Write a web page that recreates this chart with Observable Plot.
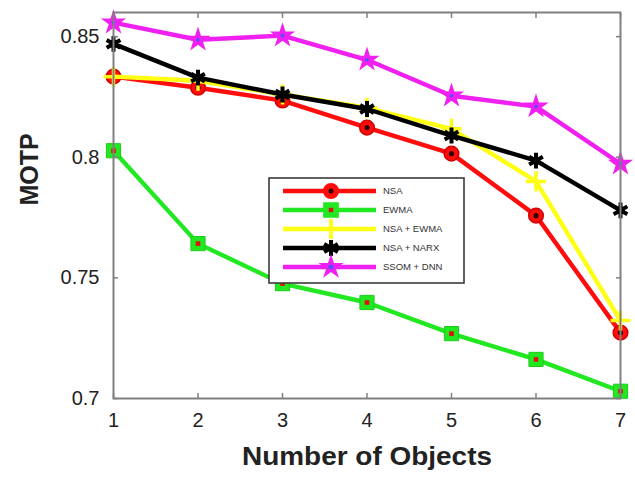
<!DOCTYPE html>
<html>
<head>
<meta charset="utf-8">
<script src="https://cdn.jsdelivr.net/npm/d3@7"></script>
<script src="https://cdn.jsdelivr.net/npm/@observablehq/plot@0.6"></script>
<style>
  html, body { margin: 0; padding: 0; background: #fff; }
  #chart { position: relative; width: 635px; height: 489px; font-family: "Liberation Sans", Arial, sans-serif; }
  #legend { position: absolute; left: 0; top: 0; }
</style>
</head>
<body>
<div id="chart"></div>
<script>
// ---- data ----
const objects = [1, 2, 3, 4, 5, 6, 7];
const seriesNames = ["EWMA", "NSA", "NSA + EWMA", "NSA + NARX", "SSOM + DNN"];
const legendOrder = ["NSA", "EWMA", "NSA + EWMA", "NSA + NARX", "SSOM + DNN"];
const nsa      = [0.8334, 0.8288, 0.8235, 0.8123, 0.8015, 0.7758, 0.7273];
const ewma     = [0.8027, 0.7642, 0.7476, 0.7398, 0.7269, 0.7162, 0.7030];
const nsaEwma  = [0.8334, 0.8317, 0.8260, 0.8205, 0.8118, 0.7900, 0.7323];
const nsaNarx  = [0.8470, 0.8330, 0.8260, 0.8200, 0.8090, 0.7986, 0.7780];
const ssomDnn  = [0.8558, 0.8487, 0.8504, 0.8404, 0.8255, 0.8210, 0.7973];
const yTicks = [0.7, 0.75, 0.8, 0.85];
const yTickLabels = ["0.7", "0.75", "0.8", "0.85"];
const xTicks = objects;
const xTitle = "Number of Objects";
const yTitle = "MOTP";

const valuesBySeries = {
  "NSA": nsa, "EWMA": ewma, "NSA + EWMA": nsaEwma, "NSA + NARX": nsaNarx, "SSOM + DNN": ssomDnn
};
const rows = seriesNames.flatMap(s => objects.map((x, i) => ({series: s, x, y: valuesBySeries[s][i]})));

const colors = {
  "NSA": "#ff0d0d", "EWMA": "#22e822", "NSA + EWMA": "#ffff14", "NSA + NARX": "#000000", "SSOM + DNN": "#f020f0"
};

function markerMarks(s, data) {
  const c = colors[s];
  const base = {x: "x", y: "y"};
  switch (s) {
    case "NSA": return [
      Plot.dot(data, {...base, symbol: "circle", r: 7.3, fill: c, stroke: "#d00000", strokeWidth: 1.5}),
      Plot.dot(data, {...base, symbol: "circle", r: 2.6, fill: "#300000"})
    ];
    case "EWMA": return [
      Plot.dot(data, {...base, symbol: "square", r: 8, fill: c, stroke: "#1ccc1c", strokeWidth: 1}),
      Plot.dot(data, {...base, symbol: "square", r: 2.6, fill: "#e01010"})
    ];
    case "NSA + EWMA": return [
      Plot.dot(data, {...base, symbol: "plus", r: 6.5, stroke: c, strokeWidth: 3.5})
    ];
    case "NSA + NARX": return [
      Plot.dot(data, {...base, symbol: "asterisk", r: 7.5, stroke: c, strokeWidth: 4}),
      Plot.dot(data, {...base, symbol: "circle", r: 4, fill: c})
    ];
    case "SSOM + DNN": return [
      Plot.dot(data, {...base, symbol: "star", r: 6.5, fill: c, stroke: c, strokeWidth: 1.5}),
      Plot.dot(data, {...base, symbol: "circle", r: 1.8, fill: "#5050ff"})
    ];
  }
}

const seriesMarks = seriesNames.flatMap(s => {
  const data = rows.filter(d => d.series === s);
  return [
    Plot.line(data, {x: "x", y: "y", stroke: colors[s], strokeWidth: 4.4}),
    ...markerMarks(s, data)
  ];
});

const axisColor = "#808080";
const textColor = "#222";

const chart = Plot.plot({
  width: 635,
  height: 489,
  marginLeft: 113,
  marginRight: 15,
  marginTop: 12,
  marginBottom: 91,
  style: {fontFamily: "'Liberation Sans', Arial, sans-serif", background: "#fff"},
  x: {domain: [1, 7], axis: null},
  y: {domain: [0.7, 0.86], axis: null},
  marks: [
    ...seriesMarks,
    Plot.frame({stroke: axisColor, strokeWidth: 2}),
    // inward tick marks on all four sides
    Plot.axisX(xTicks, {anchor: "bottom", tickSize: -5, tickFormat: () => "", stroke: axisColor, strokeWidth: 1.5, label: null}),
    Plot.axisX(xTicks, {anchor: "top", tickSize: -5, tickFormat: () => "", stroke: axisColor, strokeWidth: 1.5, label: null}),
    Plot.axisY(yTicks, {anchor: "left", tickSize: -5, tickFormat: () => "", stroke: axisColor, strokeWidth: 1.5, label: null}),
    Plot.axisY(yTicks, {anchor: "right", tickSize: -5, tickFormat: () => "", stroke: axisColor, strokeWidth: 1.5, label: null}),
    // tick labels
    Plot.axisX(xTicks, {anchor: "bottom", tickSize: 0, tickPadding: 14, tickFormat: d => String(d), fontSize: 20, fill: textColor, label: null}),
    Plot.axisY(yTicks, {anchor: "left", tickSize: 0, tickPadding: 14, tickFormat: (d, i) => yTickLabels[i], fontSize: 20, fill: textColor, label: null}),
    // axis titles
    Plot.text([yTitle], {frameAnchor: "left", dx: -84, rotate: -90, text: d => d, fontSize: 25, fontWeight: "bold", fill: textColor, className: "ytitle"}),
    Plot.text([xTitle], {frameAnchor: "bottom", dy: 66, text: d => d, fontSize: 25, fontWeight: "bold", fill: textColor, className: "xtitle"})
  ]
});

// stretch the x title slightly, as in the reference
d3.select(chart).selectAll("text").filter(function() { return this.textContent === xTitle; })
  .attr("textLength", 250).attr("lengthAdjust", "spacingAndGlyphs");

const root = document.getElementById("chart");
root.appendChild(chart);

// ---- legend (overlay) ----
const lg = d3.select(root).append("svg")
  .attr("id", "legend")
  .attr("width", 635).attr("height", 489);
const box = {x: 269, y: 178, w: 195, h: 105};
lg.append("rect").attr("x", box.x).attr("y", box.y).attr("width", box.w).attr("height", box.h)
  .attr("fill", "#fff").attr("stroke", "#3a3a3a").attr("stroke-width", 1.6);
const rowY = [191, 210, 229, 248, 267];
legendOrder.forEach((s, i) => {
  const y = rowY[i];
  const c = colors[s];
  lg.append("line").attr("x1", 283).attr("x2", 376).attr("y1", y).attr("y2", y)
    .attr("stroke", c).attr("stroke-width", 4.5);
  const cx = 331;
  const sym = {"NSA": d3.symbolCircle, "EWMA": d3.symbolSquare, "NSA + EWMA": d3.symbolPlus, "NSA + NARX": d3.symbolAsterisk, "SSOM + DNN": d3.symbolStar}[s];
  const r = {"NSA": 7.3, "EWMA": 8, "NSA + EWMA": 6.5, "NSA + NARX": 7.5, "SSOM + DNN": 6.5}[s];
  const g = lg.append("g").attr("transform", `translate(${cx},${y})`);
  const path = d3.symbol(sym, Math.PI * r * r)();
  if (s === "NSA + EWMA" || s === "NSA + NARX") {
    g.append("path").attr("d", path).attr("fill", "none").attr("stroke", c).attr("stroke-width", s === "NSA + NARX" ? 4 : 3.5);
    if (s === "NSA + NARX") g.append("circle").attr("r", 4).attr("fill", c);
    if (s === "NSA + EWMA") g.append("line").attr("y1", -10).attr("y2", 10).attr("stroke", c).attr("stroke-width", 3);
  } else {
    g.append("path").attr("d", path).attr("fill", c).attr("stroke", c).attr("stroke-width", 1.5);
    const inner = {"NSA": "#300000", "EWMA": "#e01010", "SSOM + DNN": "#5050ff"}[s];
    g.append("path").attr("d", d3.symbol(s === "EWMA" ? d3.symbolSquare : d3.symbolCircle, Math.PI * 2.5 * 2.5)()).attr("fill", inner);
  }
  lg.append("text").attr("x", 383).attr("y", y).attr("dy", "0.35em")
    .attr("font-size", 9.5).attr("font-family", "'Liberation Sans', Arial, sans-serif")
    .attr("fill", "#333").text(s);
});
</script>
</body>
</html>
